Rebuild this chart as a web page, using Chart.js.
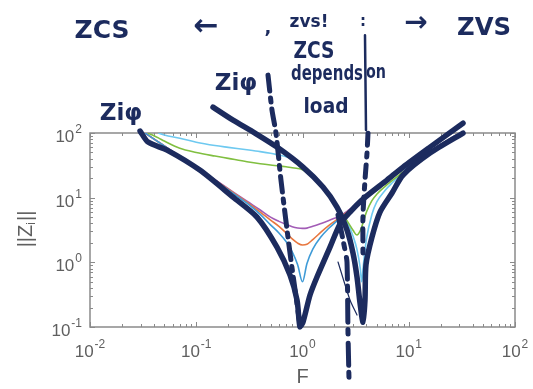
<!DOCTYPE html>
<html lang="en">
<head>
  <meta charset="UTF-8">
  <title>||Zi|| vs F</title>
  <script src="https://cdn.jsdelivr.net/npm/chart.js"></script>
  <style>
    html, body { margin: 0; padding: 0; background: #fff; }
    #wrap { position: relative; width: 533px; height: 389px; }
  </style>
</head>
<body>
  <div id="wrap"><canvas id="zChart" width="533" height="389"></canvas></div>

  <script>
    // normalised frequency F, shared by all curves
    const freq = [0.033, 0.035, 0.044, 0.05, 0.07, 0.1, 0.15, 0.2, 0.3, 0.4,
                  0.5, 0.6, 0.7, 0.8, 0.9, 1.0, 1.1, 1.25, 1.5, 1.75,
                  2.0, 2.25, 2.5, 2.75, 3.0, 3.25, 3.5, 3.6, 3.75, 4.0,
                  4.5, 5, 6, 7, 8, 10, 13, 17, 22, 30];

    // |Zi| for each load case
    const zBlue   = [100, 93.5, 72.5, 63, 43.3, 29, 18.4, 13.2, 8.2, 5.5,
                     3.8, 2.85, 2.1, 1.45, 0.92, 0.5, 0.95, 1.6, 2.5, 3.3,
                     4.05, 4.75, 5.4, 6.1, 6.8, 7.6, 8.3, 8.6, 9.1, 9.9,
                     11.6, 13.4, 17.1, 20.6, 24.1, 31.1, 41.8, 56, 73, 100];
    const zOrange = [100, 93.5, 72.5, 63, 43.5, 29.2, 18.7, 13.5, 8.5, 6.0,
                     4.5, 3.6, 2.85, 2.3, 1.98, 1.85, 1.9, 2.25, 2.95, 3.65,
                     4.3, 4.95, 5.6, 6.3, 7.0, 7.8, 8.5, 8.8, 9.3, 10.1,
                     11.8, 13.6, 17.3, 20.8, 24.3, 31.3, 42, 56, 73, 100];
    const zPurple = [100, 93.7, 73, 63.3, 43.7, 29.5, 19, 13.8, 8.8, 6.45,
                     5.0, 4.3, 3.85, 3.55, 3.4, 3.35, 3.38, 3.6, 4.0, 4.4,
                     4.8, 5.15, 5.8, 6.5, 7.2, 8.0, 8.7, 9.0, 9.5, 10.3,
                     12, 13.8, 17.5, 21, 24.5, 31.5, 42, 56, 73, 100];
    const zGreen  = [null, 100, 84, 75, 58, 50, 44, 40.5, 36, 33.5,
                     32, 31, 30, 29, 28.3, 27, 24.5, 21, 16.5, 11.8,
                     8.4, 6.4, 5.0, 3.9, 3.1, 2.65, 3.1, 3.5, 4.3, 6.0,
                     9.0, 11.3, 15, 18.5, 22, 29, 39, 53, 71, 97];
    const zCyan   = [null, null, 100, 93, 83, 72, 64, 60, 55, 51.5,
                     48.5, 45.5, 43, 40, 36, 32, 28, 23, 16.8, 11.5,
                     8.4, 6.4, 4.9, 3.6, 2.5, 1.6, 0.8, 0.5, 0.95, 2.3,
                     5.5, 8.6, 13, 17, 21, 28, 38.5, 53, 71, 97];

    // axis ticks (powers of ten) and their exponents
    const xTicks = [0.01, 0.1, 1, 10, 100];
    const xTickExp = ['-2', '-1', '0', '1', '2'];
    const yTicks = [0.1, 1, 10, 100];
    const yTickExp = ['-1', '0', '1', '2'];

    // hand-drawn ink strokes, [F, |Z|] pairs
    const inkLeftV = [[0.0296, 107], [0.0352, 72.3], [0.0531, 54.4], [0.108, 26.7], [0.222, 10.2],
                      [0.373, 5.01], [0.575, 1.72], [0.763, 0.637], [0.888, 0.261], [0.947, 0.1],
                      [1.011, 0.119], [1.177, 0.312], [1.369, 0.593], [1.815, 1.72], [2.254, 3.91],
                      [2.80, 5.99], [3.71, 9.51], [6.24, 18.7], [8.83, 29.7], [15.85, 60.5], [32.4, 142]];
    const inkRightV = [[0.1438, 251], [0.222, 158], [0.357, 99.5], [0.575, 60.5], [1.011, 29.7],
                       [1.559, 14.6], [2.112, 7.16], [2.623, 3.16], [2.988, 1.39], [3.259, 0.593],
                       [3.477, 0.235], [3.71, 0.119], [3.874, 0.261], [3.959, 0.921], [4.51, 2.46],
                       [5.362, 5.99], [6.957, 11.8], [8.831, 22.4], [15.85, 48.9], [32.4, 99.5]];
    const inkDashLeft = [[0.4735, 785], [0.5163, 226], [0.563, 99.5], [0.627, 18.7], [0.763, 1.39], [0.947, 0.107]];
    const inkBarRight = [[3.874, 3257], [3.959, 111]];
    const inkDashRight = [[4.135, 99.5], [4.046, 48.9], [3.874, 18.7], [3.71, 5.38], [3.71, 1.09]];
    const inkDashCenter = [[2.159, 5.38], [2.512, 1.55], [2.623, 1.01], [2.681, 0.0807], [2.74, 0.0152]];
    const inkThin = [[2.159, 1.01], [2.80, 0.261], [3.259, 0.153]];

    // handwritten notes: text, x, y, size, max width
    const notes = [
      ['ZCS', 102, 31, 25, 58],
      ['\u2190', 206, 27, 30, 50],
      [',', 268, 28, 18, 8],
      ['zvs!', 309, 23, 17, 44],
      [':', 363, 22, 16, 6],
      ['\u2192', 416, 24, 28, 38],
      ['ZVS', 484, 28, 25, 54],
      ['ZCS', 314, 52, 23, 41],
      ['depends', 327, 75, 21, 72],
      ['on', 376, 73, 20, 20],
      ['load', 326, 108, 21, 45],
      ['Zi\u03c6', 236, 84, 23, 44],
      ['Zi\u03c6', 121, 114, 23, 48]
    ];

    const INK = '#1c2b5e';
    const AXIS = '#8a8a8a';
    const LABEL = '#5f5f5f';

    function pts(xs, ys) {
      return xs.map((x, i) => ({ x: x, y: ys[i] })).filter(p => p.y !== null);
    }
    function inkPts(arr) {
      return arr.map(p => ({ x: p[0], y: p[1] }));
    }

    function curve(z, color) {
      return {
        data: pts(freq, z), borderColor: color, borderWidth: 1.6,
        pointRadius: 0, cubicInterpolationMode: 'monotone', order: 2
      };
    }
    function ink(arr, width, dash) {
      return {
        data: inkPts(arr), borderColor: INK, borderWidth: width, borderDash: dash || [],
        borderCapStyle: 'round', borderJoinStyle: 'round',
        pointRadius: 0, tension: 0.25, clip: false, order: 0
      };
    }

    // box, inward ticks, tick labels, axis titles and notes
    const axesPlugin = {
      id: 'matlabAxes',
      beforeDatasetsDraw(chart) {
        const { ctx, chartArea: a, scales } = chart;
        ctx.save();
        ctx.strokeStyle = AXIS;
        ctx.lineWidth = 1;
        for (let n = -2; n <= 2; n++) {
          for (let k = 1; k <= 9; k++) {
            const v = k * Math.pow(10, n);
            if (v > 100) break;
            const len = k === 1 ? 5 : 3;
            const px = Math.round(scales.x.getPixelForValue(v)) + 0.5;
            ctx.beginPath();
            ctx.moveTo(px, a.bottom); ctx.lineTo(px, a.bottom - len);
            ctx.moveTo(px, a.top); ctx.lineTo(px, a.top + len);
            ctx.stroke();
            if (v >= 0.1) {
              const py = Math.round(scales.y.getPixelForValue(v)) + 0.5;
              ctx.beginPath();
              ctx.moveTo(a.left, py); ctx.lineTo(a.left + len, py);
              ctx.moveTo(a.right, py); ctx.lineTo(a.right - len, py);
              ctx.stroke();
            }
          }
        }
        ctx.lineWidth = 1.5;
        ctx.strokeRect(a.left, a.top, a.right - a.left, a.bottom - a.top);

        // tick labels 10^n
        const drawPow = (exp, x, base, align) => {
          ctx.font = '17px "Liberation Sans", Arial, sans-serif';
          const wb = ctx.measureText('10').width;
          ctx.font = '12px "Liberation Sans", Arial, sans-serif';
          const we = ctx.measureText(exp).width;
          const x0 = align === 'right' ? x - wb - we - 1 : x - (wb + we + 1) / 2;
          ctx.textAlign = 'left';
          ctx.textBaseline = 'alphabetic';
          ctx.font = '17px "Liberation Sans", Arial, sans-serif';
          ctx.fillText('10', x0, base);
          ctx.font = '12px "Liberation Sans", Arial, sans-serif';
          ctx.fillText(exp, x0 + wb + 1, base - 9);
        };
        ctx.fillStyle = LABEL;
        xTicks.forEach((v, i) => drawPow(xTickExp[i], scales.x.getPixelForValue(v), a.bottom + 30, 'center'));
        yTicks.forEach((v, i) => drawPow(yTickExp[i], a.left - 8, scales.y.getPixelForValue(v) + 9, 'right'));

        // axis titles
        ctx.font = '20px "Liberation Sans", Arial, sans-serif';
        ctx.textAlign = 'center';
        ctx.fillText('F', (a.left + a.right) / 2, a.bottom + 56);

        ctx.translate(32, 229);
        ctx.rotate(-Math.PI / 2);
        ctx.textAlign = 'left';
        const big = '20px "Liberation Sans", Arial, sans-serif';
        const small = '12px "Liberation Sans", Arial, sans-serif';
        ctx.font = big;
        const w1 = ctx.measureText('||Z').width;
        const w3 = ctx.measureText('||').width;
        ctx.font = small;
        const w2 = ctx.measureText('i').width + 1;
        let x0 = -(w1 + w2 + w3) / 2;
        ctx.font = big; ctx.fillText('||Z', x0, 0);
        ctx.font = small; ctx.fillText('i', x0 + w1, 3);
        ctx.font = big; ctx.fillText('||', x0 + w1 + w2, 0);
        ctx.restore();
      },
      afterDraw(chart) {
        const { ctx } = chart;
        ctx.save();
        ctx.fillStyle = INK;
        ctx.textAlign = 'center';
        ctx.textBaseline = 'middle';
        notes.forEach(n => {
          ctx.font = 'bold ' + n[3] + 'px "DejaVu Sans", sans-serif';
          ctx.fillText(n[0], n[1], n[2], n[4]);
        });
        ctx.restore();
      }
    };

    new Chart(document.getElementById('zChart'), {
      type: 'line',
      data: {
        datasets: [
          ink(inkLeftV, 5.5),
          ink(inkRightV, 5.5),
          ink(inkDashLeft, 5, [16, 7, 4, 7]),
          ink(inkBarRight, 2.5),
          ink(inkDashRight, 5, [12, 8, 4, 8]),
          ink(inkDashCenter, 5, [22, 7, 5, 9]),
          ink(inkThin, 1.2),
          curve(zBlue, '#3f9bd7'),
          curve(zOrange, '#e8773f'),
          curve(zPurple, '#a25cb6'),
          curve(zGreen, '#80bf40'),
          curve(zCyan, '#6ec9f0')
        ]
      },
      options: {
        responsive: false,
        animation: false,
        devicePixelRatio: 1,
        events: [],
        layout: { padding: { top: 133, right: 18, left: 0, bottom: 0 } },
        plugins: { legend: { display: false }, tooltip: { enabled: false } },
        scales: {
          x: {
            type: 'logarithmic', min: 0.01, max: 100,
            grid: { display: false }, border: { display: false },
            ticks: { display: false },
            afterFit: s => { s.height = 62; }
          },
          y: {
            type: 'logarithmic', min: 0.1, max: 100,
            grid: { display: false }, border: { display: false },
            ticks: { display: false },
            afterFit: s => { s.width = 90; }
          }
        }
      },
      plugins: [axesPlugin]
    });
  </script>
</body>
</html>
